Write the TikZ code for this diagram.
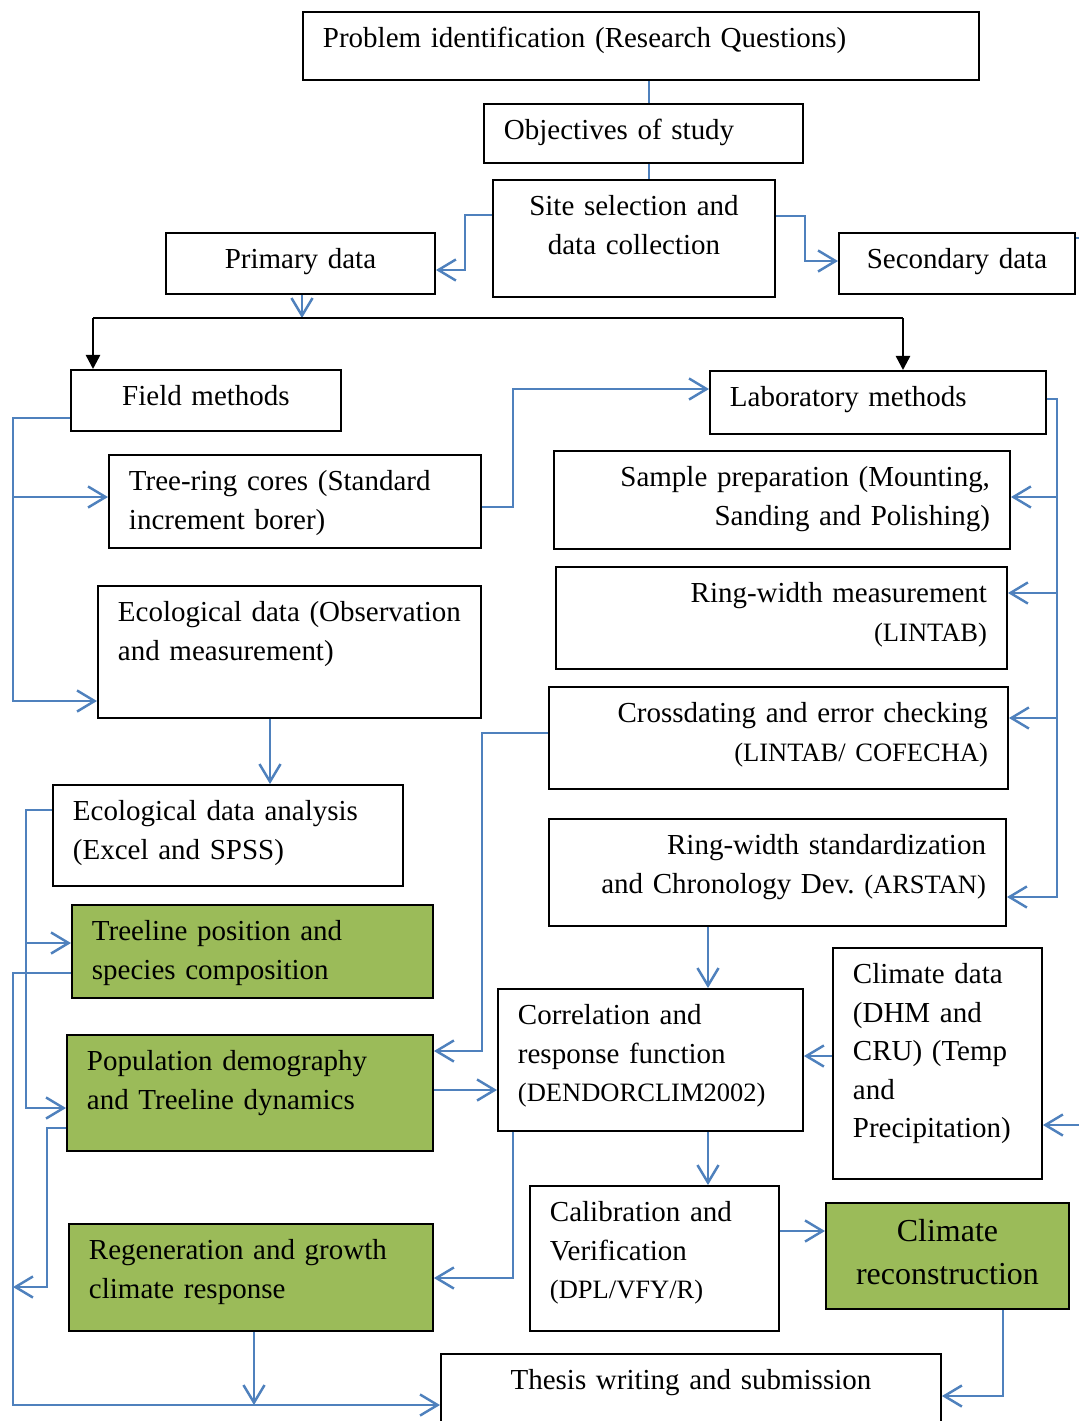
\documentclass[tikz,border=0pt]{standalone}
\usepackage{fontspec}
\setmainfont{Liberation Serif}
\usepackage{xcolor}
\usepackage{tikz}
\usetikzlibrary{arrows.meta}
\definecolor{flowblue}{HTML}{4F81BD}
\definecolor{leafgreen}{HTML}{9BBB59}
\newlength{\pxu}
\setlength{\pxu}{0.02cm}
\newcommand{\boxfont}{\fontsize{16.5}{21.9}\selectfont\frenchspacing}
\newcommand{\toolfont}{\fontsize{15.1}{21.9}\selectfont}

\begin{document}
\begin{tikzpicture}[
  x=\pxu, y=-\pxu,
  box/.style={rectangle, draw=black, line width=1.1pt, fill=white, anchor=north west, inner xsep=20\pxu, inner ysep=0pt, text height=36\pxu, font=\boxfont},
  resultbox/.style={box, fill=leafgreen},
  link/.style={draw=flowblue, line width=1.4pt},
  arrow/.style={link, -{Straight Barb[length=10pt, width=12pt]}},
  splitarrow/.style={draw=black, line width=1.4pt, -{Triangle[length=8pt, width=8pt]}}
]
  \useasboundingbox (0,0) rectangle (1079,1421);

  % The planning stage along the top of the page.
  \node[box, text width=636\pxu, text depth=32\pxu, align=left] (problem) at (302,11) {Problem identification (Research Questions)};
  \node[box, text width=279\pxu, text depth=23\pxu, align=left] (objectives) at (483,103) {Objectives of study};
  \node[box, text width=242\pxu, text depth=81\pxu, align=center] (site) at (492,179) {Site selection and\\data collection};
  \node[box, text width=229\pxu, text depth=25\pxu, align=center] (primary) at (165,232) {Primary data};
  \node[box, text width=196\pxu, text depth=25\pxu, align=center] (secondary) at (838,232) {Secondary data};

  % Field side on the left, laboratory side on the right.
  \node[box, text width=230\pxu, text depth=25\pxu, align=center] (field) at (70,369) {Field methods};
  \node[box, text width=296\pxu, text depth=27\pxu, align=left] (lab) at (709,370) {Laboratory methods};
  \node[box, text width=332\pxu, text depth=57\pxu, align=left] (cores) at (108,454) {Tree-ring cores (Standard\\increment borer)};
  \node[box, text width=343\pxu, text depth=96\pxu, align=left] (ecodata) at (97,585) {Ecological data (Observation\\and measurement)};
  \node[box, text width=416\pxu, text depth=62\pxu, align=right] (sample) at (553,450) {Sample preparation (Mounting,\\Sanding and Polishing)};
  \node[box, text width=411\pxu, text depth=66\pxu, align=right] (ringwidth) at (555,566) {Ring-width measurement\\{\toolfont (LINTAB)}};
  \node[box, text width=419\pxu, text depth=66\pxu, align=right] (crossdate) at (548,686) {Crossdating and error checking\\{\toolfont (LINTAB/ COFECHA)}};
  \node[box, text width=417\pxu, text depth=71\pxu, align=right] (standard) at (548,818) {Ring-width standardization\\and Chronology Dev. {\toolfont(ARSTAN)}};

  % Analyses and results.
  \node[box, text width=310\pxu, text depth=65\pxu, align=left] (ecoanalysis) at (52,784) {Ecological data analysis\\(Excel and SPSS)};
  \node[resultbox, text width=321\pxu, text depth=57\pxu, align=left] (treeline) at (71,904) {Treeline position and\\species composition};
  \node[resultbox, text width=326\pxu, text depth=80\pxu, align=left] (population) at (66,1034) {Population demography\\and Treeline dynamics};
  \node[box, text width=265\pxu, text depth=106\pxu, align=left] (correlation) at (497,988) {Correlation and\\response function\\{\toolfont (DENDORCLIM2002)}};
  \node[box, text width=169\pxu, text depth=195\pxu, align=left] (climate) at (832,947) {Climate data\\(DHM and\\CRU) (Temp\\and\\Precipitation)};
  \node[box, text width=209\pxu, text depth=109\pxu, align=left] (calibration) at (529,1185) {Calibration and\\Verification\\{\toolfont (DPL/VFY/R)}};
  \node[resultbox, text width=203\pxu, text height=39\pxu, text depth=67\pxu, align=center, font=\fontsize{18.2}{24}\selectfont] (reconstruction) at (825,1202) {Climate\\reconstruction};
  \node[resultbox, text width=324\pxu, text depth=71\pxu, align=left] (regeneration) at (68,1223) {Regeneration and growth\\climate response};
  \node[box, text width=460\pxu, text depth=41\pxu, align=center] (thesis) at (440,1353) {Thesis writing and submission};

  % Junction points on the page.
  \coordinate (split) at (302,318);
  \coordinate (splitL) at (93,318);
  \coordinate (splitR) at (903,318);
  \coordinate (joinL) at (13,1287);
  \coordinate (joinB) at (254,1405);

  % Connectors of the planning stage.
  \draw[link] (problem.south -| 649,0) -- (objectives.north -| 649,0);
  \draw[link] (objectives.south -| 649,0) -- (site.north -| 649,0);
  \draw[arrow] (site.west |- 0,215) -| (465,270) -- (primary.east |- 0,270);
  \draw[arrow] (site.east |- 0,216) -| (805,261) -- (secondary.west |- 0,261);
  \draw[arrow] (secondary.east |- 0,238) -| (1090,1125) -- (climate.east |- 0,1125);
  \draw[arrow] (primary.south -| split) -- (split);
  \draw[line width=1.4pt] (splitL) -- (splitR);
  \draw[splitarrow] (splitL) -- (field.north -| splitL);
  \draw[splitarrow] (splitR) -- (lab.north -| splitR);

  % Field methods
  \draw[arrow] (field.west |- 0,418) -| (13,497) -- (cores.west |- 0,497);
  \draw[arrow] (field.west |- 0,418) -| (13,701) -- (ecodata.west |- 0,701);
  \draw[arrow] (cores.east |- 0,507) -| (513,389) -- (lab.west |- 0,389);

  % Laboratory methods
  \draw[arrow] (lab.east |- 0,399) -| (1057,497) -- (sample.east |- 0,497);
  \draw[arrow] (lab.east |- 0,399) -| (1057,593) -- (ringwidth.east |- 0,593);
  \draw[arrow] (lab.east |- 0,399) -| (1057,718) -- (crossdate.east |- 0,718);
  \draw[arrow] (lab.east |- 0,399) -| (1057,897) -- (standard.east |- 0,897);

  % Ecological results
  \draw[arrow] (ecodata.south -| 270,0) -- (ecoanalysis.north -| 270,0);
  \draw[arrow] (ecoanalysis.west |- 0,810) -| (26,943) -- (treeline.west |- 0,943);
  \draw[arrow] (ecoanalysis.west |- 0,810) -| (26,1108) -- (population.west |- 0,1108);
  \draw[arrow] (treeline.west |- 0,973) -| (13,1405) -- (thesis.west |- 0,1405);
  \draw[arrow] (population.west |- 0,1128) -| (47,1287) -- (joinL);
  \draw[arrow] (regeneration.south -| joinB) -- (joinB);

  % Dendroclimatic results
  \draw[arrow] (crossdate.west |- 0,733) -| (482,1051) -- (population.east |- 0,1051);
  \draw[arrow] (population.east |- 0,1090) -- (correlation.west |- 0,1090);
  \draw[arrow] (standard.south -| 708,0) -- (correlation.north -| 708,0);
  \draw[arrow] (climate.west |- 0,1056) -- (correlation.east |- 0,1056);
  \draw[arrow] (correlation.south -| 513,0) |- (regeneration.east |- 0,1278);
  \draw[arrow] (correlation.south -| 708,0) -- (calibration.north -| 708,0);
  \draw[arrow] (calibration.east |- 0,1231) -- (reconstruction.west |- 0,1231);
  \draw[arrow] (reconstruction.south -| 1003,0) |- (thesis.east |- 0,1396);

\end{tikzpicture}
\end{document}
